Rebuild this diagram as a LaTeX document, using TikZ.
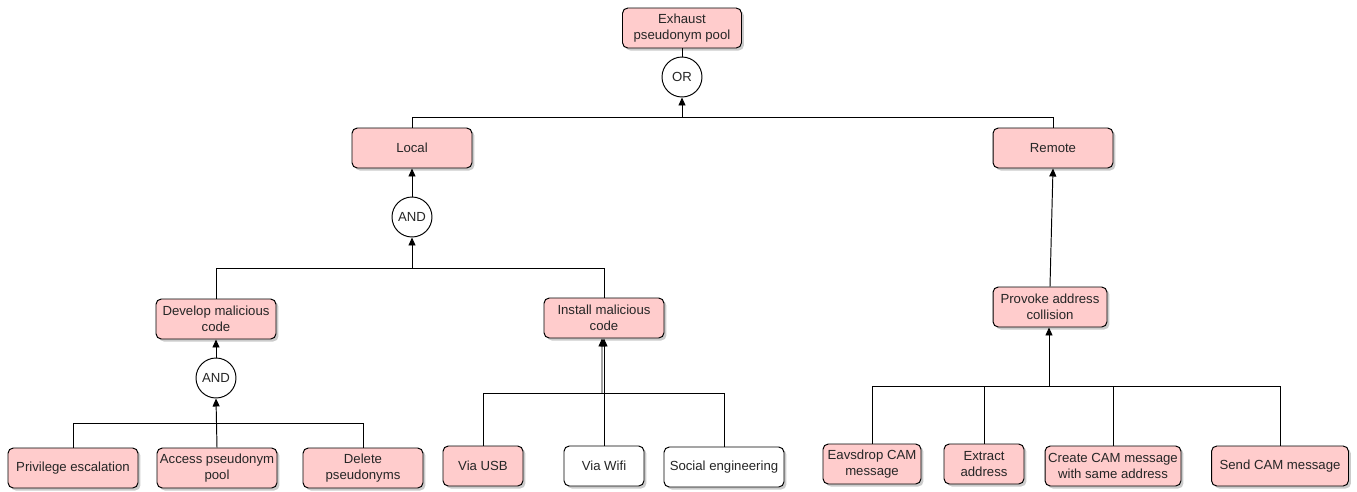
\documentclass[tikz,border=0pt]{standalone}
\usepackage{fontspec}
\setmainfont{Liberation Sans}
\usetikzlibrary{arrows.meta,shadows}

\begin{document}
\begin{tikzpicture}[
  x=0.02cm, y=-0.02cm,
  >={Triangle[length=1.6mm,width=1.4mm]},
  font=\fontsize{7.5}{8.8}\selectfont,
  every path/.style={line width=0.55pt},
  goalbox/.style={rounded corners=3pt,draw=black,fill=attack,align=center,
    minimum height=0.8cm,inner sep=1pt,text=black!85,
    drop shadow={shadow xshift=0.05cm,shadow yshift=-0.05cm,fill=black!45,opacity=0.45}},
  plainbox/.style={goalbox,fill=white},
  gate/.style={circle,draw=black,fill=white,minimum size=0.8cm,inner sep=0pt,text=black!85}
]
\definecolor{attack}{RGB}{255,204,204}
\useasboundingbox (0,0) rectangle (1357,491);

% Root goal and its OR gate.
\node[goalbox,minimum width=2.38cm] (exhaust) at (682,28) {Exhaust\\pseudonym pool};
\node[gate] (or) at (682,77) {OR};
\draw (exhaust) -- (or);

% Local and remote branch.
\node[goalbox,minimum width=2.4cm] (local) at (412,148) {Local};
\node[goalbox,minimum width=2.4cm] (remote) at (1053,148) {Remote};
\coordinate (orbus) at (682,117);
\draw (local.north) |- (orbus);
\draw (remote.north) |- (orbus);
\draw[->] (orbus) -- (or.south);

% Local attack: AND of developing and installing code.
\node[gate] (andlocal) at (412,217) {AND};
\draw[->] (andlocal) -- (local);
\node[goalbox,minimum width=2.4cm] (develop) at (216,319) {Develop malicious\\code};
\node[goalbox,minimum width=2.4cm] (install) at (604,318) {Install malicious\\code};
\coordinate (localbus) at (412,268);
\draw (develop.north) |- (localbus);
\draw (install.north) |- (localbus);
\draw[->] (localbus) -- (andlocal.south);

% Developing the code.
\node[gate] (anddev) at (216,378) {AND};
\draw[->] (anddev) -- (develop);
\node[goalbox,minimum width=2.6cm] (privilege) at (73,468) {Privilege escalation};
\node[goalbox,minimum width=2.4cm] (access) at (217,468) {Access pseudonym\\pool};
\node[goalbox,minimum width=2.4cm] (delete) at (363,468) {Delete\\pseudonyms};
\coordinate (devbus) at (216,423);
\draw (privilege.north) |- (devbus);
\draw (delete.north) |- (devbus);
\draw[->] (access.north) -- (anddev.south);

% Installing the code.
\node[goalbox,minimum width=1.6cm] (usb) at (483,466) {Via USB};
\node[plainbox,minimum width=1.6cm] (wifi) at (604,466) {Via Wifi};
\node[plainbox,minimum width=2.4cm] (social) at (724,467) {Social engineering};
\coordinate (instbus) at (602,393);
\draw (usb.north) |- (instbus);
\draw (social.north) |- (instbus);
\draw[->] (instbus) -- ([xshift=-0.04cm]install.south);
\draw[->] (wifi.north) -- (install.south);

% Remote attack.
\node[goalbox,minimum width=2.28cm] (provoke) at (1050,307) {Provoke address\\collision};
\draw[->] (provoke.north) -- (remote.south);
\node[goalbox,minimum width=1.96cm] (eavsdrop) at (872,464) {Eavsdrop CAM\\message};
\node[goalbox,minimum width=1.6cm] (extract) at (984,464) {Extract\\address};
\node[goalbox,minimum width=2.72cm] (create) at (1113,466) {Create CAM message\\with same address};
\node[goalbox,minimum width=2.74cm] (send) at (1280,466) {Send CAM message};
\coordinate (remotebus) at (1049,386);
\draw (eavsdrop.north) |- (remotebus);
\draw (send.north) |- (remotebus);
\draw (extract.north) -- (extract.north |- remotebus);
\draw (create.north) -- (create.north |- remotebus);
\draw[->] (remotebus) -- (remotebus |- provoke.south);
\end{tikzpicture}
\end{document}
